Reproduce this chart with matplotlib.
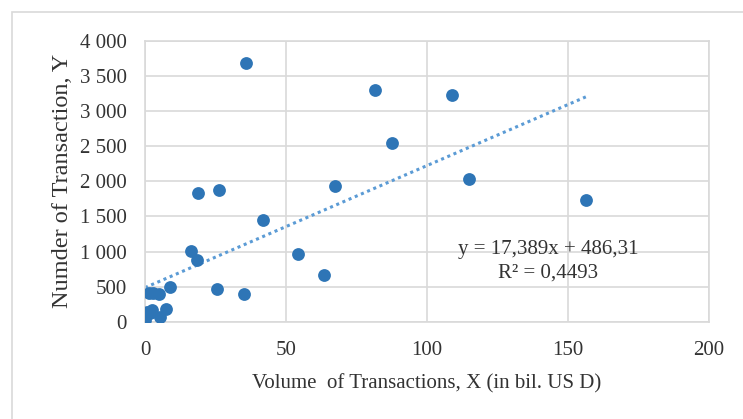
import numpy as np
import matplotlib
matplotlib.use('Agg')
import matplotlib.pyplot as plt
from matplotlib.ticker import FuncFormatter
from matplotlib.patches import Rectangle

# values
volume = [35.8, 81.4, 108.8, 87.7, 67.3, 115.0, 156.3, 18.8, 26.2, 41.9,
          54.4, 63.6, 35.0, 16.2, 18.3, 25.4, 9.0, 7.5, 5.0, 3.0,
          1.3, 5.3, 0.6, 1.8, 0.0, 2.4]
number = [3690, 3300, 3230, 2550, 1940, 2030, 1740, 1840, 1870, 1443,
          967, 660, 390, 1010, 885, 460, 495, 180, 400, 405,
          410, 71, 140, 120, 24, 160]
slope = 17.389
intercept = 486.31
eq_text = 'y = 17,389x + 486,31'
r2_text = 'R² = 0,4493'

plt.rcParams['font.family'] = ['Liberation Serif', 'DejaVu Serif']
txt = '#333333'

fig = plt.figure(figsize=(7.43, 4.19), dpi=100)
fig.patches.append(Rectangle((12 / 743, -0.05), 0.99, 1 - 12 / 419 + 0.05,
                             transform=fig.transFigure, fill=False,
                             edgecolor='#d9d9d9', linewidth=1.2))
ax = fig.add_axes([0.1952, 0.2322, 0.7591, 0.6699])

ax.scatter(volume, number, s=85, color='#2e75b6', zorder=3, linewidths=0)

xs = np.array([min(volume), max(volume)])
ax.plot(xs, slope * xs + intercept, linestyle=(0, (1, 1.2)), color='#5b9bd5',
        linewidth=2.2, zorder=2)

ax.set_xlim(0, 200)
ax.set_ylim(0, 4000)
ax.set_xticks([0, 50, 100, 150, 200])
ax.set_yticks(range(0, 4001, 500))
ax.yaxis.set_major_formatter(FuncFormatter(lambda v, p: f'{int(v):,}'.replace(',', ' ')))
ax.grid(True, color='#d9d9d9', linewidth=1.2)
ax.set_axisbelow(True)
for s in ax.spines.values():
    s.set_color('#d9d9d9')
    s.set_linewidth(1.2)
ax.tick_params(length=0, labelsize=15, colors=txt)
ax.tick_params(axis='y', pad=13)
ax.tick_params(axis='x', pad=14)

ax.set_xlabel('Volume  of Transactions, X (in bil. US D)', fontsize=15,
              color=txt, labelpad=10)
ax.set_ylabel('Numder of Transaction, Y', fontsize=17.5, color=txt, labelpad=5)

ax.text(143, 1030, eq_text, ha='center', va='center', fontsize=15, color=txt)
ax.text(143, 690, r2_text, ha='center', va='center', fontsize=15, color=txt)

fig.savefig('out.png', dpi=100)
